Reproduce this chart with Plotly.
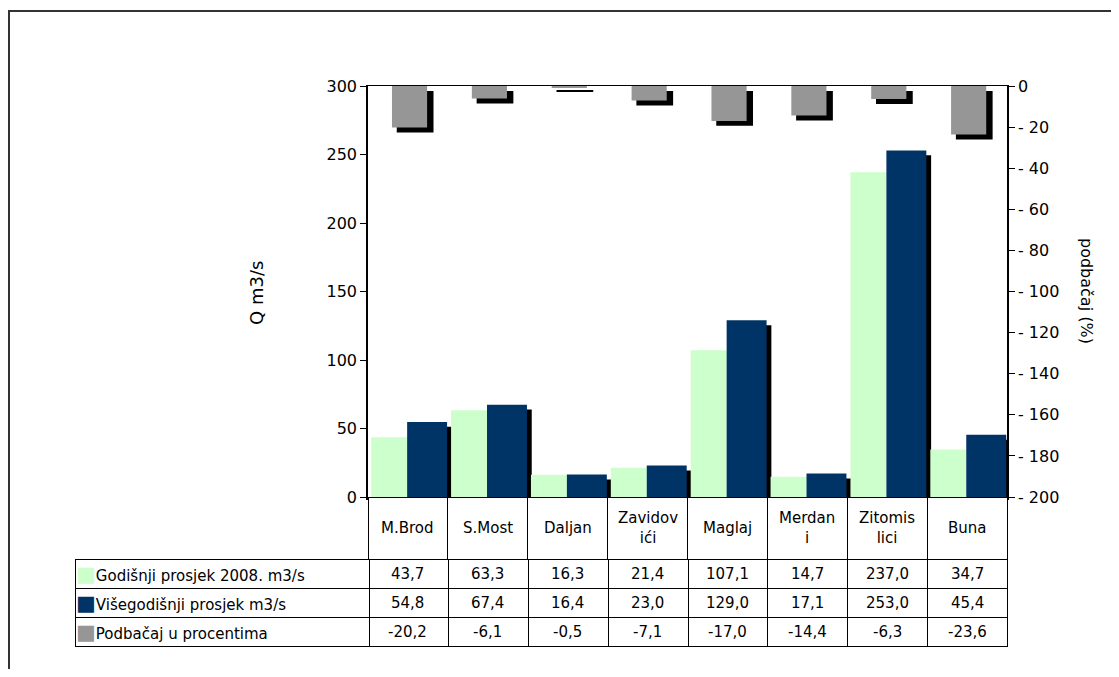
import plotly.graph_objects as go

# podaci
stanice = ["M.Brod", "S.Most", "Daljan", "Zavidovići", "Maglaj", "Merdani", "Zitomislici", "Buna"]
stanice_tabela = ["M.Brod", "S.Most", "Daljan", "Zavidov<br>ići", "Maglaj", "Merdan<br>i", "Zitomis<br>lici", "Buna"]
godisnji_2008 = [43.7, 63.3, 16.3, 21.4, 107.1, 14.7, 237.0, 34.7]
visegodisnji = [54.8, 67.4, 16.4, 23.0, 129.0, 17.1, 253.0, 45.4]
podbacaj = [-20.2, -6.1, -0.5, -7.1, -17.0, -14.4, -6.3, -23.6]
serije = ["Godišnji prosjek 2008. m3/s", "Višegodišnji prosjek m3/s", "Podbačaj u procentima"]
q_ticks = [0, 50, 100, 150, 200, 250, 300]
p_ticks = [0, -20, -40, -60, -80, -100, -120, -140, -160, -180, -200]

ZELENA = "#CCFFCC"
PLAVA = "#003366"
SIVA = "#969696"
FONT = "DejaVu Sans"

W, H = 1103, 661
RED = 29  # visina reda tabele u px


def fmt(v):
    return f"{v:.1f}".replace(".", ",")


fig = go.Figure()

# sjena ispod tamnih stubaca
fig.add_trace(go.Bar(x=stanice, y=visegodisnji, base=-3.6, offset=0.05, width=0.5,
                     marker=dict(color="black", line=dict(width=0)),
                     hoverinfo="skip", showlegend=False))
fig.add_trace(go.Bar(x=stanice, y=godisnji_2008, offset=-0.46, width=0.45, name=serije[0],
                     marker=dict(color=ZELENA, line=dict(width=0))))
fig.add_trace(go.Bar(x=stanice, y=visegodisnji, offset=-0.01, width=0.5, name=serije[1],
                     marker=dict(color=PLAVA, line=dict(width=0))))

# podbacaj na desnoj osi
fig.add_trace(go.Bar(x=stanice, y=podbacaj, base=-2.4, offset=-0.14, width=0.46,
                     xaxis="x2", yaxis="y2",
                     marker=dict(color="black", line=dict(width=0)),
                     hoverinfo="skip", showlegend=False))
fig.add_trace(go.Bar(x=stanice, y=podbacaj, offset=-0.2, width=0.44, name=serije[2],
                     xaxis="x2", yaxis="y2",
                     marker=dict(color=SIVA, line=dict(width=0))))

stil = dict(line=dict(color="black", width=1), fill=dict(color="white"),
            font=dict(family=FONT, size=15, color="black"))

# mreza tabele (tekst ide kao anotacije da bi redovi ostali niski)
fig.add_trace(go.Table(
    domain=dict(x=[360 / W, 999 / W], y=[1 - 551 / H, 1 - 489 / H]),
    columnwidth=[1] * 8,
    header=dict(values=[""] * 8, height=62, **stil),
))
fig.add_trace(go.Table(
    domain=dict(x=[67 / W, 999 / W], y=[0, 1 - 551 / H]),
    columnwidth=[295] + [80] * 8,
    header=dict(values=[[""] * len(serije)] * (len(stanice) + 1), height=RED, **stil),
))

anotacije = [
    dict(text="Q m3/s", x=248 / W, y=1 - 285 / H, xref="paper", yref="paper",
         xanchor="center", yanchor="middle",
         textangle=-90, showarrow=False, font=dict(size=18)),
    dict(text="podbačaj (%)", x=1079 / W, y=1 - 283 / H, xref="paper", yref="paper",
         xanchor="center", yanchor="middle",
         textangle=90, showarrow=False, font=dict(size=16)),
]
tekst = dict(family=FONT, size=15, color="black")
for s, t in zip(stanice, stanice_tabela):
    anotacije.append(dict(text=t, x=s, xref="x", y=1 - 520 / H, yref="paper",
                          yanchor="middle", showarrow=False, font=tekst))

kljucevi = [ZELENA, PLAVA, SIVA]
redovi = [godisnji_2008, visegodisnji, podbacaj]
for i, (c, naziv, vrijednosti) in enumerate(zip(kljucevi, serije, redovi)):
    y = 1 - (551 + RED * i + RED / 2) / H
    anotacije.append(dict(text=f'<span style="color:{c};font-size:21px">■</span>{naziv}',
                          x=66 / W, xref="paper", y=y, yref="paper",
                          xanchor="left", yanchor="middle", showarrow=False, font=tekst))
    for s, v in zip(stanice, vrijednosti):
        anotacije.append(dict(text=fmt(v), x=s, xref="x", y=y, yref="paper",
                              yanchor="middle", showarrow=False, font=tekst))

fig.update_layout(
    width=W, height=H,
    margin=dict(l=0, r=0, t=0, b=0),
    paper_bgcolor="white", plot_bgcolor="white",
    barmode="overlay", showlegend=False, hovermode=False,
    font=dict(family=FONT, size=16, color="black"),
    xaxis=dict(domain=[360 / W, 999 / W], type="category", range=[-0.5, 7.5], automargin=False,
               showticklabels=False, ticks="", showline=True, linewidth=3,
               linecolor="black", showgrid=False, zeroline=False),
    xaxis2=dict(overlaying="x", side="top", type="category", range=[-0.5, 7.5], automargin=False,
                showticklabels=False, ticks="", showline=True, linewidth=1,
                linecolor="black", showgrid=False, zeroline=False),
    yaxis=dict(domain=[1 - 489 / H, 1 - 78 / H], range=[0, 300], tickvals=q_ticks, automargin=False,
               ticks="outside", ticklen=6, tickcolor="black", showline=True,
               linewidth=1.5, linecolor="black", showgrid=False, zeroline=False),
    yaxis2=dict(overlaying="y", side="right", anchor="x", range=[-200, 0], tickvals=p_ticks,
                ticktext=[str(v) if v == 0 else f"- {abs(v)}" for v in p_ticks], automargin=False,
                ticks="outside", ticklen=6, tickcolor="black", showline=True,
                linewidth=1.5, linecolor="black", showgrid=False, zeroline=False),
    annotations=anotacije,
    shapes=[
        dict(type="rect", xref="paper", yref="paper", x0=1 / W, x1=1.05, y0=-0.05, y1=1 - 3 / H,
             line=dict(color="#333333", width=2)),
    ],
)

fig.write_html("out.html")
